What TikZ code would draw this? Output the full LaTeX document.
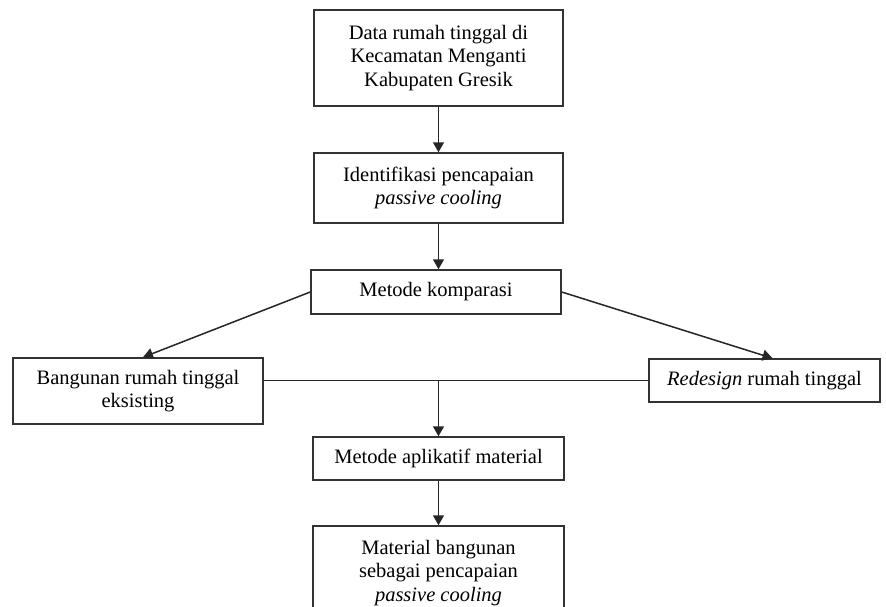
\documentclass[tikz,border=0pt]{standalone}
\usepackage{fontspec}
\setmainfont{Liberation Serif}
\usetikzlibrary{arrows.meta,calc}
\tikzset{
  box/.style={draw=black!80, line width=1.5pt, fill=white, align=center, inner sep=2pt,
    font=\fontsize{20.5pt}{23.5pt}\selectfont},
  conn/.style={draw=black!85, line width=1.5pt},
  arr/.style={conn, -{Triangle[length=10pt,width=11pt]}}
}
\begin{document}
\begin{tikzpicture}[x=1pt,y=-1pt]
\clip (0,0) rectangle (886,606);
\fill[white] (0,0) rectangle (886,606);
\node[box, minimum width=249pt, minimum height=96pt] (b1) at (438.5,58) {Data rumah tinggal di\\Kecamatan Menganti\\Kabupaten Gresik};
\node[box, minimum width=249pt, minimum height=70pt] (b2) at (438.5,188) {Identifikasi pencapaian\\\textit{passive cooling}};
\node[box, minimum width=250pt, minimum height=44pt] (b3) at (436,292) {Metode komparasi};
\node[box, minimum width=250pt, minimum height=66pt] (bl) at (138,391) {Bangunan rumah tinggal\\eksisting};
\node[box, minimum width=231pt, minimum height=43pt] (br) at (764.5,380.5) {\textit{Redesign} rumah tinggal};
\node[box, minimum width=251pt, minimum height=43pt] (b4) at (438.5,458.5) {Metode aplikatif material};
\node[box, minimum width=251pt, minimum height=94pt] (b5) at (438.5,573) {Material bangunan\\sebagai pencapaian\\\textit{passive cooling}};
\draw[arr] (b1.south) -- (b2.north);
\draw[arr] (b2.south) -- (b2.south |- b3.north);
\draw[arr] (b3.west) -- ([xshift=5pt]bl.north);
\draw[arr] (b3.east) -- ([xshift=8pt]br.north);
\draw[conn] (br.west) -- (br.west -| bl.east);
\coordinate (j) at (b4.north |- br.west);
\draw[arr] (j) -- (b4.north);
\draw[arr] (b4.south) -- (b5.north);
\end{tikzpicture}
\end{document}
